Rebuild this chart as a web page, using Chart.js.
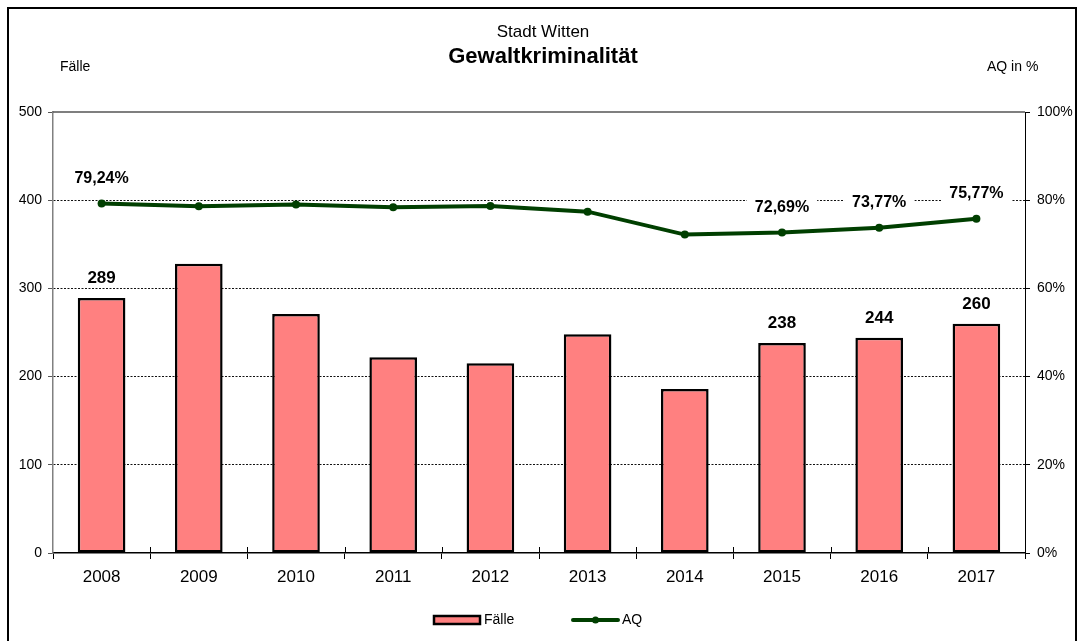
<!DOCTYPE html>
<html>
<head>
<meta charset="utf-8">
<script src="https://cdn.jsdelivr.net/npm/chart.js@4/dist/chart.umd.min.js"></script>
<style>
  html, body { margin: 0; padding: 0; background: #fff; }
  #wrap { position: relative; width: 1079px; height: 641px; }
</style>
</head>
<body>
<div id="wrap"><canvas id="c" width="1079" height="641"></canvas></div>
<script>
const years = ['2008', '2009', '2010', '2011', '2012', '2013', '2014', '2015', '2016', '2017'];
const faelle = [289, 328, 271, 222, 215, 248, 186, 238, 244, 260];
const aq = [79.24, 78.6, 79.0, 78.4, 78.7, 77.4, 72.2, 72.69, 73.77, 75.77];
const labelShown = [true, false, false, false, false, false, false, true, true, true];
const leftTicks = [0, 100, 200, 300, 400, 500];
const rightTicks = [0, 20, 40, 60, 80, 100];
const titleLine1 = 'Stadt Witten';
const titleLine2 = 'Gewaltkriminalität';
const leftAxisTitle = 'Fälle';
const rightAxisTitle = 'AQ in %';

const FONT = '"Liberation Sans", Arial, sans-serif';
const BAR_COLOR = '#FF8080';
const LINE_COLOR = '#003f00';

const decor = {
  id: 'decor',
  beforeDraw(chart) {
    const ctx = chart.ctx;
    ctx.save();
    ctx.fillStyle = '#fff';
    ctx.fillRect(0, 0, chart.width, chart.height);
    ctx.strokeStyle = '#000';
    ctx.lineWidth = 2;
    ctx.strokeRect(8, 8, 1068, 700);
    ctx.fillStyle = '#000';
    ctx.textAlign = 'center';
    ctx.textBaseline = 'middle';
    ctx.font = '17px ' + FONT;
    ctx.fillText(titleLine1, 543, 32);
    ctx.font = 'bold 22px ' + FONT;
    ctx.fillText(titleLine2, 543, 57);
    ctx.font = '14px ' + FONT;
    ctx.textAlign = 'left';
    ctx.fillText(leftAxisTitle, 60, 67);
    ctx.fillText(rightAxisTitle, 987, 67);
    ctx.restore();
  },
  beforeDatasetsDraw(chart) {
    const ctx = chart.ctx;
    const lineMeta = chart.getDatasetMeta(1);
    const area = chart.chartArea;
    ctx.save();
    ctx.strokeStyle = '#555';
    ctx.lineWidth = 1.5;
    ctx.beginPath();
    ctx.moveTo(area.left, area.top);
    ctx.lineTo(area.right, area.top);
    ctx.stroke();
    ctx.font = 'bold 16px ' + FONT;
    labelShown.forEach((show, i) => {
      if (!show) return;
      const p = lineMeta.data[i];
      const txt = aq[i].toFixed(2).replace('.', ',') + '%';
      const w = ctx.measureText(txt).width;
      ctx.fillStyle = '#fff';
      ctx.fillRect(p.x - w / 2 - 8, p.y - 25 - 9, w + 16, 18);
    });
    ctx.restore();
  },
  afterDatasetsDraw(chart) {
    const ctx = chart.ctx;
    const barMeta = chart.getDatasetMeta(0);
    const lineMeta = chart.getDatasetMeta(1);
    ctx.save();
    ctx.textAlign = 'center';
    ctx.textBaseline = 'middle';
    ctx.fillStyle = '#000';
    labelShown.forEach((show, i) => {
      if (!show) return;
      const b = barMeta.data[i];
      ctx.font = 'bold 17px ' + FONT;
      ctx.fillText(String(faelle[i]), b.x, b.y - 19.5);
      const p = lineMeta.data[i];
      ctx.font = 'bold 16px ' + FONT;
      ctx.fillText(aq[i].toFixed(2).replace('.', ',') + '%', p.x, p.y - 25);
    });
    ctx.restore();
  },
  afterDraw(chart) {
    const ctx = chart.ctx;
    const ds = chart.data.datasets;
    const xs = chart.scales.x;
    const area = chart.chartArea;
    ctx.save();
    // upper half of the category tick marks (crossing the axis)
    ctx.strokeStyle = '#000';
    ctx.lineWidth = 1;
    const half = (xs.getPixelForValue(1) - xs.getPixelForValue(0)) / 2;
    for (let i = 1; i < years.length; i++) {
      const x = Math.round(xs.getPixelForValue(i) - half) + 0.5;
      ctx.beginPath();
      ctx.moveTo(x, area.bottom - 6);
      ctx.lineTo(x, area.bottom);
      ctx.stroke();
    }
    // legend
    const cy = 620;
    ctx.fillStyle = ds[0].backgroundColor;
    ctx.fillRect(434, cy - 4, 46, 8);
    ctx.strokeStyle = '#000';
    ctx.lineWidth = 2.5;
    ctx.strokeRect(434, cy - 4, 46, 8);
    ctx.fillStyle = '#000';
    ctx.font = '14px ' + FONT;
    ctx.textAlign = 'left';
    ctx.textBaseline = 'middle';
    ctx.fillText(ds[0].label, 484, cy);
    ctx.strokeStyle = ds[1].borderColor;
    ctx.lineWidth = 4;
    ctx.lineCap = 'round';
    ctx.beginPath();
    ctx.moveTo(573, cy);
    ctx.lineTo(618, cy);
    ctx.stroke();
    ctx.fillStyle = ds[1].borderColor;
    ctx.beginPath();
    ctx.arc(595.5, cy, 3.5, 0, Math.PI * 2);
    ctx.fill();
    ctx.fillStyle = '#000';
    ctx.fillText(ds[1].label, 622, cy);
    ctx.restore();
  }
};

new Chart(document.getElementById('c'), {
  data: {
    labels: years,
    datasets: [
      {
        type: 'bar',
        label: 'Fälle',
        data: faelle,
        backgroundColor: BAR_COLOR,
        borderColor: '#000',
        borderWidth: 2.5,
        borderSkipped: false,
        barPercentage: 0.49,
        categoryPercentage: 1,
        yAxisID: 'y',
        order: 2
      },
      {
        type: 'line',
        label: 'AQ',
        data: aq,
        borderColor: LINE_COLOR,
        backgroundColor: LINE_COLOR,
        borderWidth: 4,
        pointRadius: 4,
        pointBorderWidth: 0,
        pointBackgroundColor: LINE_COLOR,
        tension: 0,
        yAxisID: 'y1',
        order: 1
      }
    ]
  },
  options: {
    responsive: false,
    animation: false,
    devicePixelRatio: 1,
    layout: { padding: { top: 112, bottom: 0, left: 0, right: 0 } },
    plugins: {
      legend: { display: false },
      title: { display: false },
      tooltip: { enabled: false }
    },
    scales: {
      x: {
        offset: true,
        afterFit: s => { s.height = 88; },
        grid: {
          offset: true,
          drawOnChartArea: false,
          tickLength: 6,
          tickColor: '#000',
          tickWidth: 1
        },
        border: { color: '#000', width: 1.5 },
        ticks: {
          color: '#000',
          padding: 8,
          font: { family: FONT, size: 17 }
        }
      },
      y: {
        position: 'left',
        min: leftTicks[0],
        max: leftTicks[leftTicks.length - 1],
        afterFit: s => { s.width = 53; },
        afterBuildTicks: s => { s.ticks = leftTicks.map(v => ({ value: v })); },
        grid: {
          color: c => (c.tick && (c.tick.value === 0 || c.tick.value === 500)) ? 'rgba(0,0,0,0)' : '#111',
          lineWidth: 1,
          tickLength: 5,
          tickColor: '#555',
          tickBorderDash: []
        },
        border: { color: '#808080', width: 1.5, dash: [2, 1.5] },
        ticks: {
          color: '#000',
          padding: 6,
          font: { family: FONT, size: 14 }
        }
      },
      y1: {
        position: 'right',
        min: rightTicks[0],
        max: rightTicks[rightTicks.length - 1],
        afterFit: s => { s.width = 54; },
        afterBuildTicks: s => { s.ticks = rightTicks.map(v => ({ value: v })); },
        grid: {
          drawOnChartArea: false,
          tickLength: 5,
          tickColor: '#000'
        },
        border: { color: '#000', width: 1 },
        ticks: {
          color: '#000',
          padding: 7,
          font: { family: FONT, size: 14 },
          callback: v => v + '%'
        }
      }
    }
  },
  plugins: [decor]
});
</script>
</body>
</html>
